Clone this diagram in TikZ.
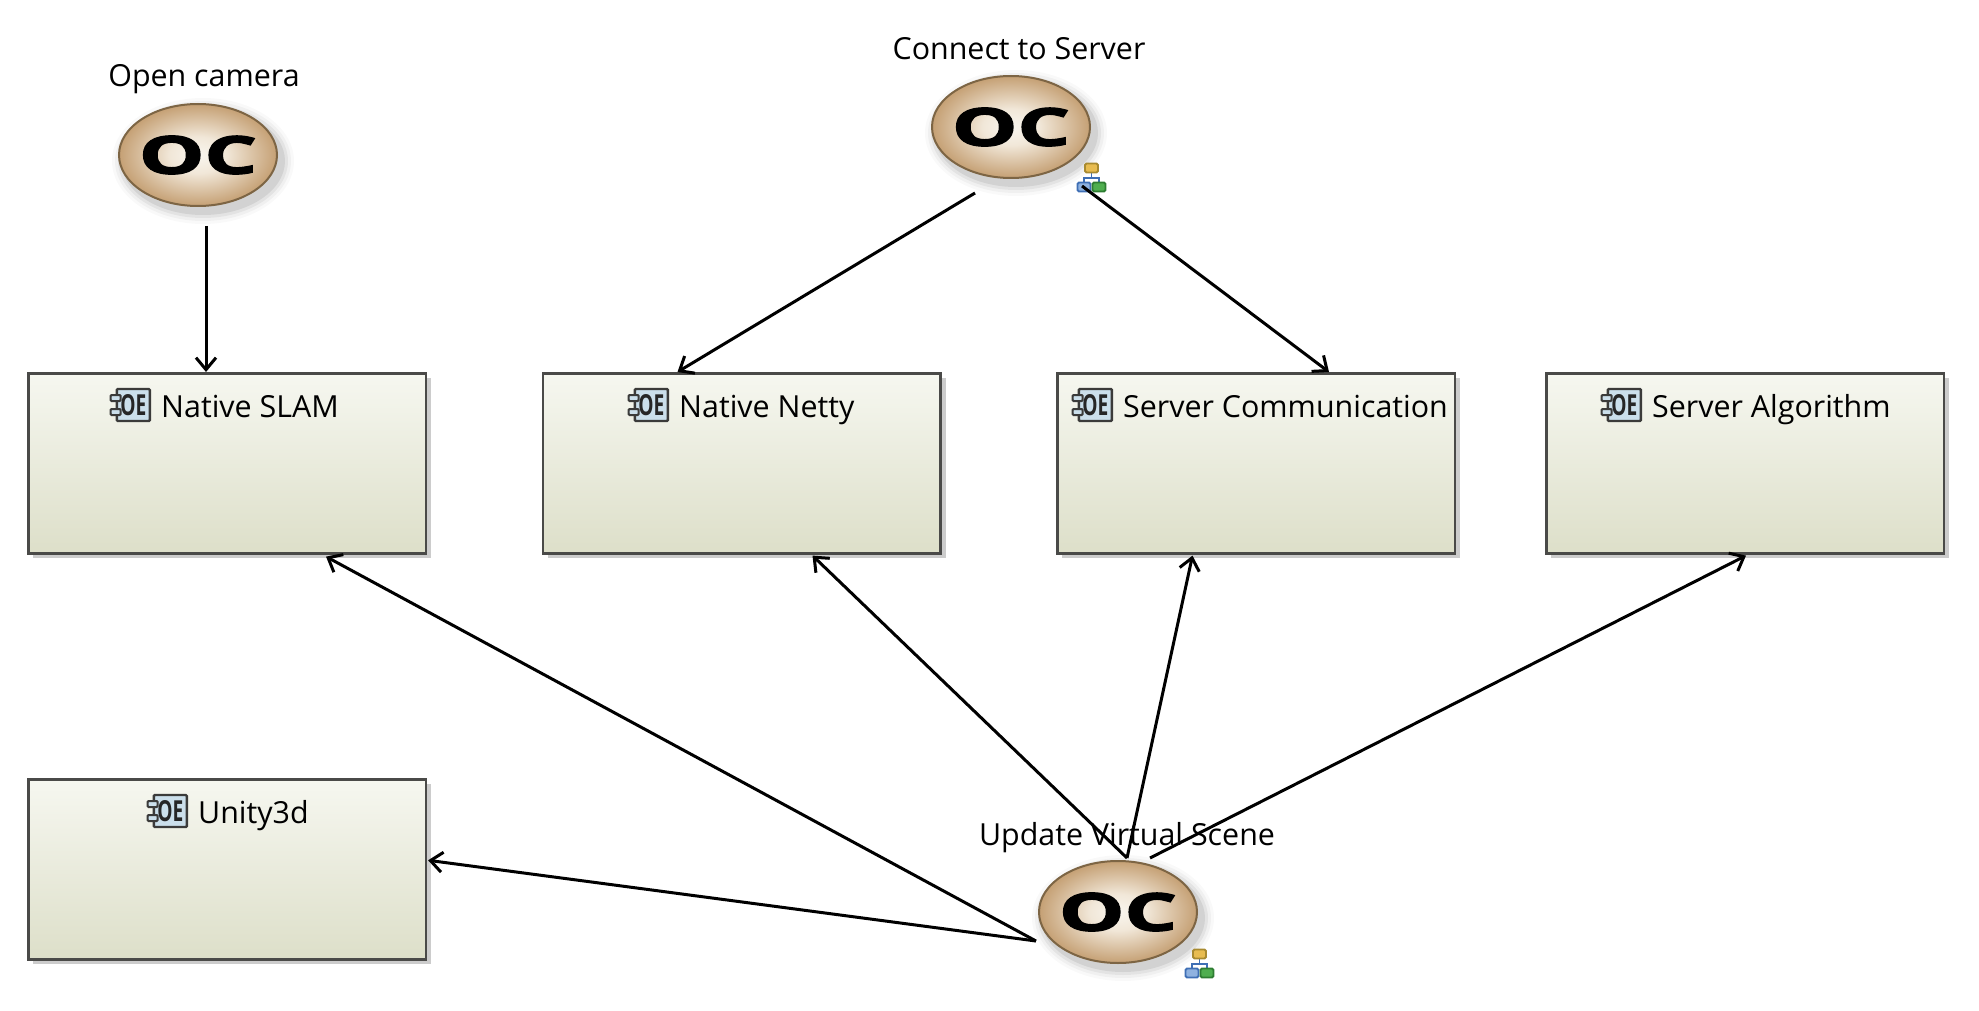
\documentclass[tikz,border=0pt]{standalone}
\usepackage{fontspec}
\setmainfont{Open Sans}
\newfontfamily\ocfont[BoldFeatures={FakeBold=2.2}]{Open Sans}
\usetikzlibrary{arrows.meta,calc,shapes.geometric}
\definecolor{boxtop}{HTML}{F6F7F0}
\definecolor{boxbot}{HTML}{DDDFC9}
\definecolor{boxline}{HTML}{4A4A48}
\definecolor{tanline}{HTML}{7D6544}
\definecolor{tancore}{HTML}{F9F6EF}
\definecolor{tanmid}{HTML}{F1E7D8}
\definecolor{tanedge}{HTML}{C5A074}
\definecolor{iconblue}{HTML}{CBDFEB}
\definecolor{netyellow}{HTML}{E8BC50}
\definecolor{netyline}{HTML}{A88A30}
\definecolor{netblue}{HTML}{8FB2E0}
\definecolor{netbline}{HTML}{3F6FB5}
\definecolor{netgreen}{HTML}{4FAE4F}
\definecolor{netgline}{HTML}{2E7D32}
\pgfdeclareradialshading{ocshade}{\pgfpoint{0bp}{0bp}}{%
  color(0bp)=(tancore);
  color(9bp)=(tanmid);
  color(25bp)=(tanedge);
  color(50bp)=(tanedge)}
\tikzset{
  x=1pt,y=-1pt,
  compbox/.style={rectangle,draw=boxline,line width=2.6pt,top color=boxtop,bottom color=boxbot,minimum width=397.5pt,minimum height=180pt,inner sep=0pt,anchor=north west},
  boxshadow/.style={fill=black!20,draw=none},
  title/.style={font=\fontsize{30.4}{36}\selectfont,inner sep=0pt,anchor=base west,text=black},
  oplabel/.style={font=\fontsize{30.4}{36}\selectfont,inner sep=0pt,anchor=base,text=black},
  opellipse/.style={ellipse,draw=tanline,line width=2pt,shading=ocshade,minimum width=158pt,minimum height=102pt,inner sep=0pt},
  oclogo/.style={font=\ocfont\bfseries,inner sep=0pt,text=black},
  netbox/.style={rectangle,rounded corners=1.5pt,line width=1.8pt,minimum width=13pt,minimum height=9pt,inner sep=0pt},
  link/.style={draw=black,line width=3pt,-{Straight Barb[length=12pt,width=20pt,line width=3pt]}},
}
\newcommand{\opnode}[6]{% name, x, y, label, label y, label x
  \foreach \g/\o in {12/0.025,9/0.035,6/0.05,3/0.07}{
    \fill[black,opacity=\o] (#2+5,#3+6) ellipse ({79+\g} and {51+\g});
  }
  \node[opellipse] (#1) at (#2,#3) {};
  \node[oclogo] (#1-logo) at (#2,#3) {\resizebox{118pt}{38pt}{OC}};
  \node[oplabel] (#1-label) at (#6,#5) {#4};
}
\newcommand{\compnode}[5]{% name,x,y,title,title x
  \fill[boxshadow] (#2+6,#3+6) rectangle (#2+404,#3+186);
  \node[compbox] (#1) at (#2,#3) {};
  \node[title] (#1-title) at (#5,#3+45) {#4};
  \node[draw=boxline!80!black,line width=2.4pt,fill=iconblue,rounded corners=1pt,minimum width=33pt,minimum height=32pt,inner sep=0pt,anchor=east,
        font=\bfseries,text=black!85] (#1-icon) at (#5-10,#3+33) {\resizebox{26pt}{21pt}{OE}};
  \foreach \dy in {-7,7}{
    \draw[boxline!80!black,line width=2pt,fill=iconblue,rounded corners=1pt] ([xshift=-5pt,yshift=\dy pt-3pt]#1-icon.west) rectangle ++(10,-6);
  }
}
\newcommand{\netcon}[3]{% name,x,y of top-left
  \begin{scope}[shift={(#2,#3)}]
    \draw[netbline,line width=1.8pt] (14.5,10)--(14.5,15) (7,21)--(7,15)--(22,15)--(22,21);
    \node[netbox,draw=netyline,fill=netyellow] (#1-a) at (14.5,5) {};
    \node[netbox,draw=netbline,fill=netblue] (#1-b) at (7,24) {};
    \node[netbox,draw=netgline,fill=netgreen] (#1-c) at (22,24) {};
  \end{scope}
}
\begin{document}
\begin{tikzpicture}
\useasboundingbox (0,0) rectangle (1979,1011);
\fill[white] (0,0) rectangle (1979,1011);
\compnode{slam}{27}{372}{Native SLAM}{161}
\compnode{netty}{541.5}{372}{Native Netty}{679}
\compnode{comm}{1056}{372}{Server Communication}{1123}
\compnode{algo}{1545}{372}{Server Algorithm}{1652}
\compnode{unity}{27}{778}{Unity3d}{198}
\opnode{cam}{198}{155}{Open camera}{87}{204}
\opnode{conn}{1011}{127}{Connect to Server}{60}{1019}
\opnode{upd}{1118}{912}{Update Virtual Scene}{845.5}{1127}
\netcon{connnet}{1077}{163}
\netcon{updnet}{1185}{949}
\draw[link] ([xshift=8pt,yshift=-19pt]cam.south) -- ([xshift=179pt]slam.north west);
\draw[link] ([xshift=-36pt,yshift=-14pt]conn.south) -- ([xshift=136pt]netty.north west);
\draw[link] ([xshift=71pt,yshift=-7pt]conn.south) -- ([xshift=273pt]comm.north west);
\draw[link] ([xshift=-2pt,yshift=-29pt]upd.west) -- ([xshift=299pt,yshift=-2pt]slam.south west);
\draw[link] ([xshift=-2pt,yshift=-29pt]upd.west) -- ([xshift=1pt,yshift=9pt]unity.east);
\draw[link] ([xshift=9pt,yshift=2pt]upd.north) -- ([xshift=271pt,yshift=-1pt]netty.south west);
\draw[link] ([xshift=9pt,yshift=2pt]upd.north) -- ([xshift=136.5pt,yshift=-1pt]comm.south west);
\draw[link] ([xshift=32pt,yshift=2pt]upd.north) -- ([xshift=201pt,yshift=-1pt]algo.south west);
\end{tikzpicture}
\end{document}
